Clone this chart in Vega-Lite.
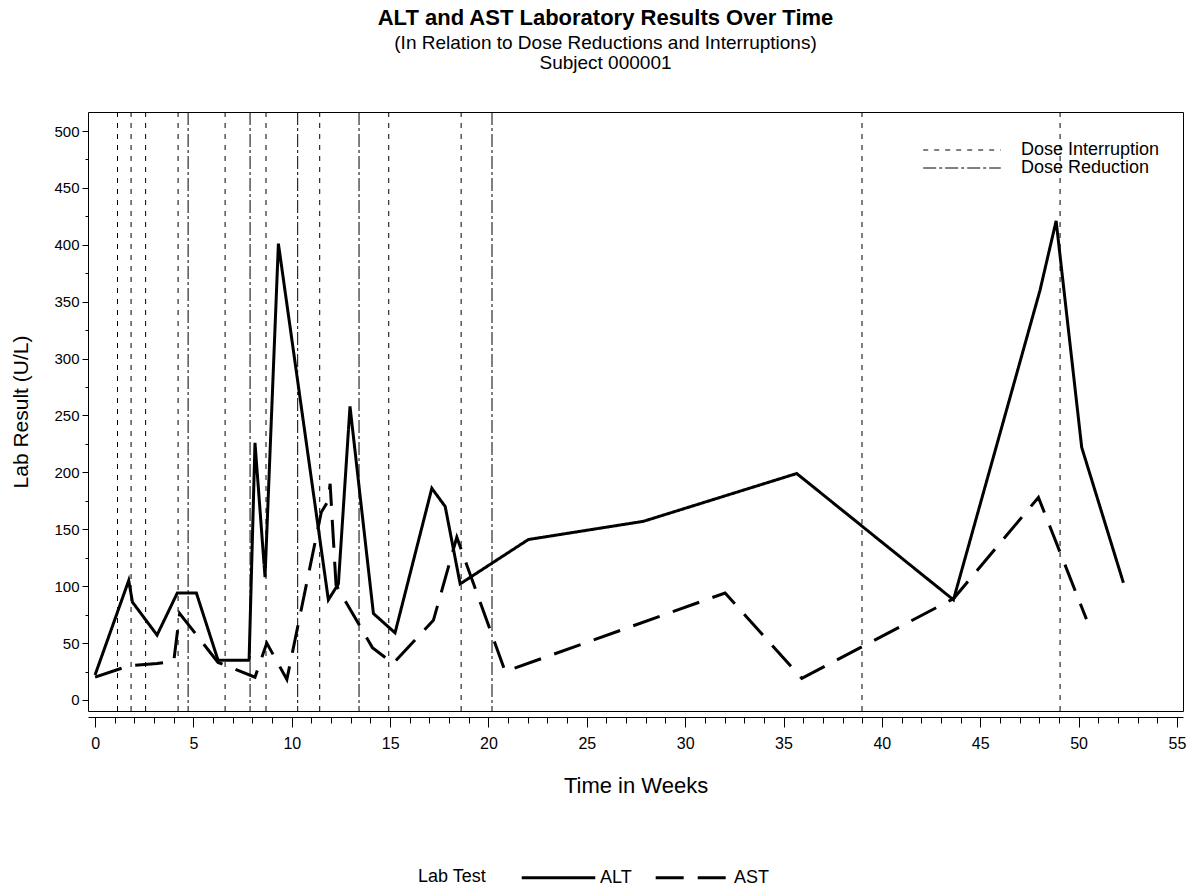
{
  "$schema": "https://vega.github.io/schema/vega-lite/v6.json",
  "autosize": "none",
  "width": 1095,
  "height": 599,
  "padding": {"left": 88, "top": 112, "right": 5, "bottom": 175},
  "config": {
    "font": "Liberation Sans",
    "view": {"stroke": "black", "strokeWidth": 1},
    "axis": {"grid": false, "labelColor": "black", "titleColor": "black", "tickColor": "black", "domainColor": "black", "labelFont": "Liberation Sans", "titleFont": "Liberation Sans", "titleFontWeight": "normal"}
  },
  "title": {
    "text": "ALT and AST Laboratory Results Over Time",
    "subtitle": ["(In Relation to Dose Reductions and Interruptions)", "Subject 000001"],
    "fontSize": 22,
    "fontWeight": "bold",
    "subtitleFontSize": 19,
    "subtitleLineHeight": 20,
    "subtitleColor": "black",
    "color": "black",
    "subtitlePadding": 4,
    "anchor": "middle",
    "dx": -30,
    "offset": 38
  },
  "datasets": {
    "lab": [
      {"week": 0, "value": 22, "test": "ALT"},
      {"week": 1.71, "value": 105, "test": "ALT"},
      {"week": 1.9, "value": 86, "test": "ALT"},
      {"week": 3.15, "value": 57, "test": "ALT"},
      {"week": 4.18, "value": 94, "test": "ALT"},
      {"week": 5.15, "value": 94, "test": "ALT"},
      {"week": 6.25, "value": 35, "test": "ALT"},
      {"week": 7.83, "value": 35, "test": "ALT"},
      {"week": 8.13, "value": 226, "test": "ALT"},
      {"week": 8.64, "value": 108, "test": "ALT"},
      {"week": 9.32, "value": 401, "test": "ALT"},
      {"week": 11.86, "value": 88, "test": "ALT"},
      {"week": 12.37, "value": 102, "test": "ALT"},
      {"week": 12.96, "value": 258, "test": "ALT"},
      {"week": 14.15, "value": 76, "test": "ALT"},
      {"week": 15.25, "value": 59, "test": "ALT"},
      {"week": 17.12, "value": 186, "test": "ALT"},
      {"week": 17.8, "value": 170, "test": "ALT"},
      {"week": 18.56, "value": 102, "test": "ALT"},
      {"week": 22.03, "value": 141, "test": "ALT"},
      {"week": 27.88, "value": 157, "test": "ALT"},
      {"week": 35.67, "value": 199, "test": "ALT"},
      {"week": 43.64, "value": 88, "test": "ALT"},
      {"week": 48.04, "value": 360, "test": "ALT"},
      {"week": 48.86, "value": 421, "test": "ALT"},
      {"week": 50.16, "value": 222, "test": "ALT"},
      {"week": 52.28, "value": 103, "test": "ALT"},
      {"week": 0, "value": 20, "test": "AST"},
      {"week": 1.71, "value": 30, "test": "AST"},
      {"week": 3.15, "value": 32, "test": "AST"},
      {"week": 4.0, "value": 34, "test": "AST"},
      {"week": 4.3, "value": 76, "test": "AST"},
      {"week": 6.25, "value": 33, "test": "AST"},
      {"week": 8.13, "value": 20, "test": "AST"},
      {"week": 8.73, "value": 50, "test": "AST"},
      {"week": 9.75, "value": 18, "test": "AST"},
      {"week": 11.5, "value": 165, "test": "AST"},
      {"week": 11.85, "value": 175, "test": "AST"},
      {"week": 11.95, "value": 190, "test": "AST"},
      {"week": 12.25, "value": 101, "test": "AST"},
      {"week": 14.1, "value": 46, "test": "AST"},
      {"week": 15.15, "value": 32, "test": "AST"},
      {"week": 17.2, "value": 70, "test": "AST"},
      {"week": 18.39, "value": 143, "test": "AST"},
      {"week": 20.85, "value": 25, "test": "AST"},
      {"week": 32.03, "value": 94, "test": "AST"},
      {"week": 35.93, "value": 19, "test": "AST"},
      {"week": 43.64, "value": 89, "test": "AST"},
      {"week": 47.96, "value": 178, "test": "AST"},
      {"week": 50.4, "value": 71, "test": "AST"}
    ],
    "refs": [
      {"week": 1.14, "type": "Dose Interruption"},
      {"week": 1.83, "type": "Dose Interruption"},
      {"week": 2.57, "type": "Dose Interruption"},
      {"week": 4.22, "type": "Dose Interruption"},
      {"week": 4.73, "type": "Dose Reduction"},
      {"week": 6.61, "type": "Dose Interruption"},
      {"week": 7.88, "type": "Dose Reduction"},
      {"week": 8.69, "type": "Dose Interruption"},
      {"week": 10.3, "type": "Dose Reduction"},
      {"week": 11.42, "type": "Dose Interruption"},
      {"week": 13.42, "type": "Dose Reduction"},
      {"week": 14.93, "type": "Dose Interruption"},
      {"week": 18.61, "type": "Dose Interruption"},
      {"week": 20.18, "type": "Dose Reduction"},
      {"week": 38.99, "type": "Dose Interruption"},
      {"week": 49.06, "type": "Dose Interruption"}
    ]
  },
  "encoding": {
    "x": {
      "field": "week",
      "type": "quantitative",
      "scale": {"domain": [-0.36, 55.31], "nice": false, "zero": false},
      "axis": {
        "title": "Time in Weeks",
        "values": [0,1,2,3,4,5,6,7,8,9,10,11,12,13,14,15,16,17,18,19,20,21,22,23,24,25,26,27,28,29,30,31,32,33,34,35,36,37,38,39,40,41,42,43,44,45,46,47,48,49,50,51,52,53,54,55],
        "labelExpr": "datum.value % 5 === 0 ? datum.label : ''",
        "labelOverlap": false,
        "offset": 6,
        "tickSize": {"condition": {"test": "datum.value % 5 === 0", "value": 10}, "value": 6},
        "labelFontSize": 16,
        "labelPadding": 8,
        "titleFontSize": 22,
        "titlePadding": 24,
        "labelFlush": false
      }
    }
  },
  "layer": [
    {
      "data": {"name": "refs"},
      "mark": {"type": "rule", "color": "black", "strokeWidth": 1},
      "encoding": {
        "strokeDash": {
          "field": "type",
          "type": "nominal",
          "scale": {"domain": ["Dose Interruption", "Dose Reduction"], "range": [[5, 6], [13, 3, 3, 3]]},
          "legend": {
            "title": null,
            "orient": "none",
            "legendX": 865,
            "legendY": 29,
            "symbolType": "M-4.85,0H4.85",
            "symbolSize": 256,
            "symbolStrokeWidth": 1,
            "symbolStrokeColor": "black",
            "symbolFillColor": "transparent",
            "labelFontSize": 18,
            "labelColor": "black",
            "labelOffset": 50,
            "rowPadding": 0,
            "padding": 0
          }
        }
      }
    },
    {
      "data": {"name": "lab"},
      "mark": {"type": "line", "color": "black", "strokeWidth": 3},
      "encoding": {
        "y": {
          "field": "value",
          "type": "quantitative",
          "scale": {"domain": [-9.7, 516.7], "nice": false, "zero": false},
          "axis": {
            "title": "Lab Result (U/L)",
            "values": [0,25,50,75,100,125,150,175,200,225,250,275,300,325,350,375,400,425,450,475,500],
            "labelExpr": "datum.value % 50 === 0 ? datum.label : ''",
            "labelOverlap": false,
            "domain": false,
            "tickSize": {"condition": {"test": "datum.value % 50 === 0", "value": 6}, "value": 3},
            "labelFontSize": 15,
            "labelPadding": 3,
            "titleFontSize": 21,
            "titlePadding": 22,
            "labelFlush": false
          }
        },
        "strokeDash": {
          "field": "test",
          "type": "nominal",
          "scale": {"domain": ["ALT", "AST"], "range": [[1, 0], [28, 14]]},
          "legend": {
            "title": "Lab Test",
            "titleOrient": "left",
            "titleFontWeight": "normal",
            "titleFontSize": 18,
            "titleColor": "black",
            "titleAnchor": "middle",
            "orient": "none",
            "direction": "horizontal",
            "legendX": 330,
            "legendY": 756,
            "symbolType": "M-4.6,0H4.6",
            "symbolSize": 256,
            "symbolStrokeWidth": 3,
            "symbolStrokeColor": "black",
            "symbolFillColor": "transparent",
            "labelFontSize": 18,
            "labelColor": "black",
            "columnPadding": 17,
            "labelOffset": 32,
            "titlePadding": 62,
            "padding": 0
          }
        }
      }
    }
  ],
  "resolve": {"scale": {"strokeDash": "independent"}}
}
